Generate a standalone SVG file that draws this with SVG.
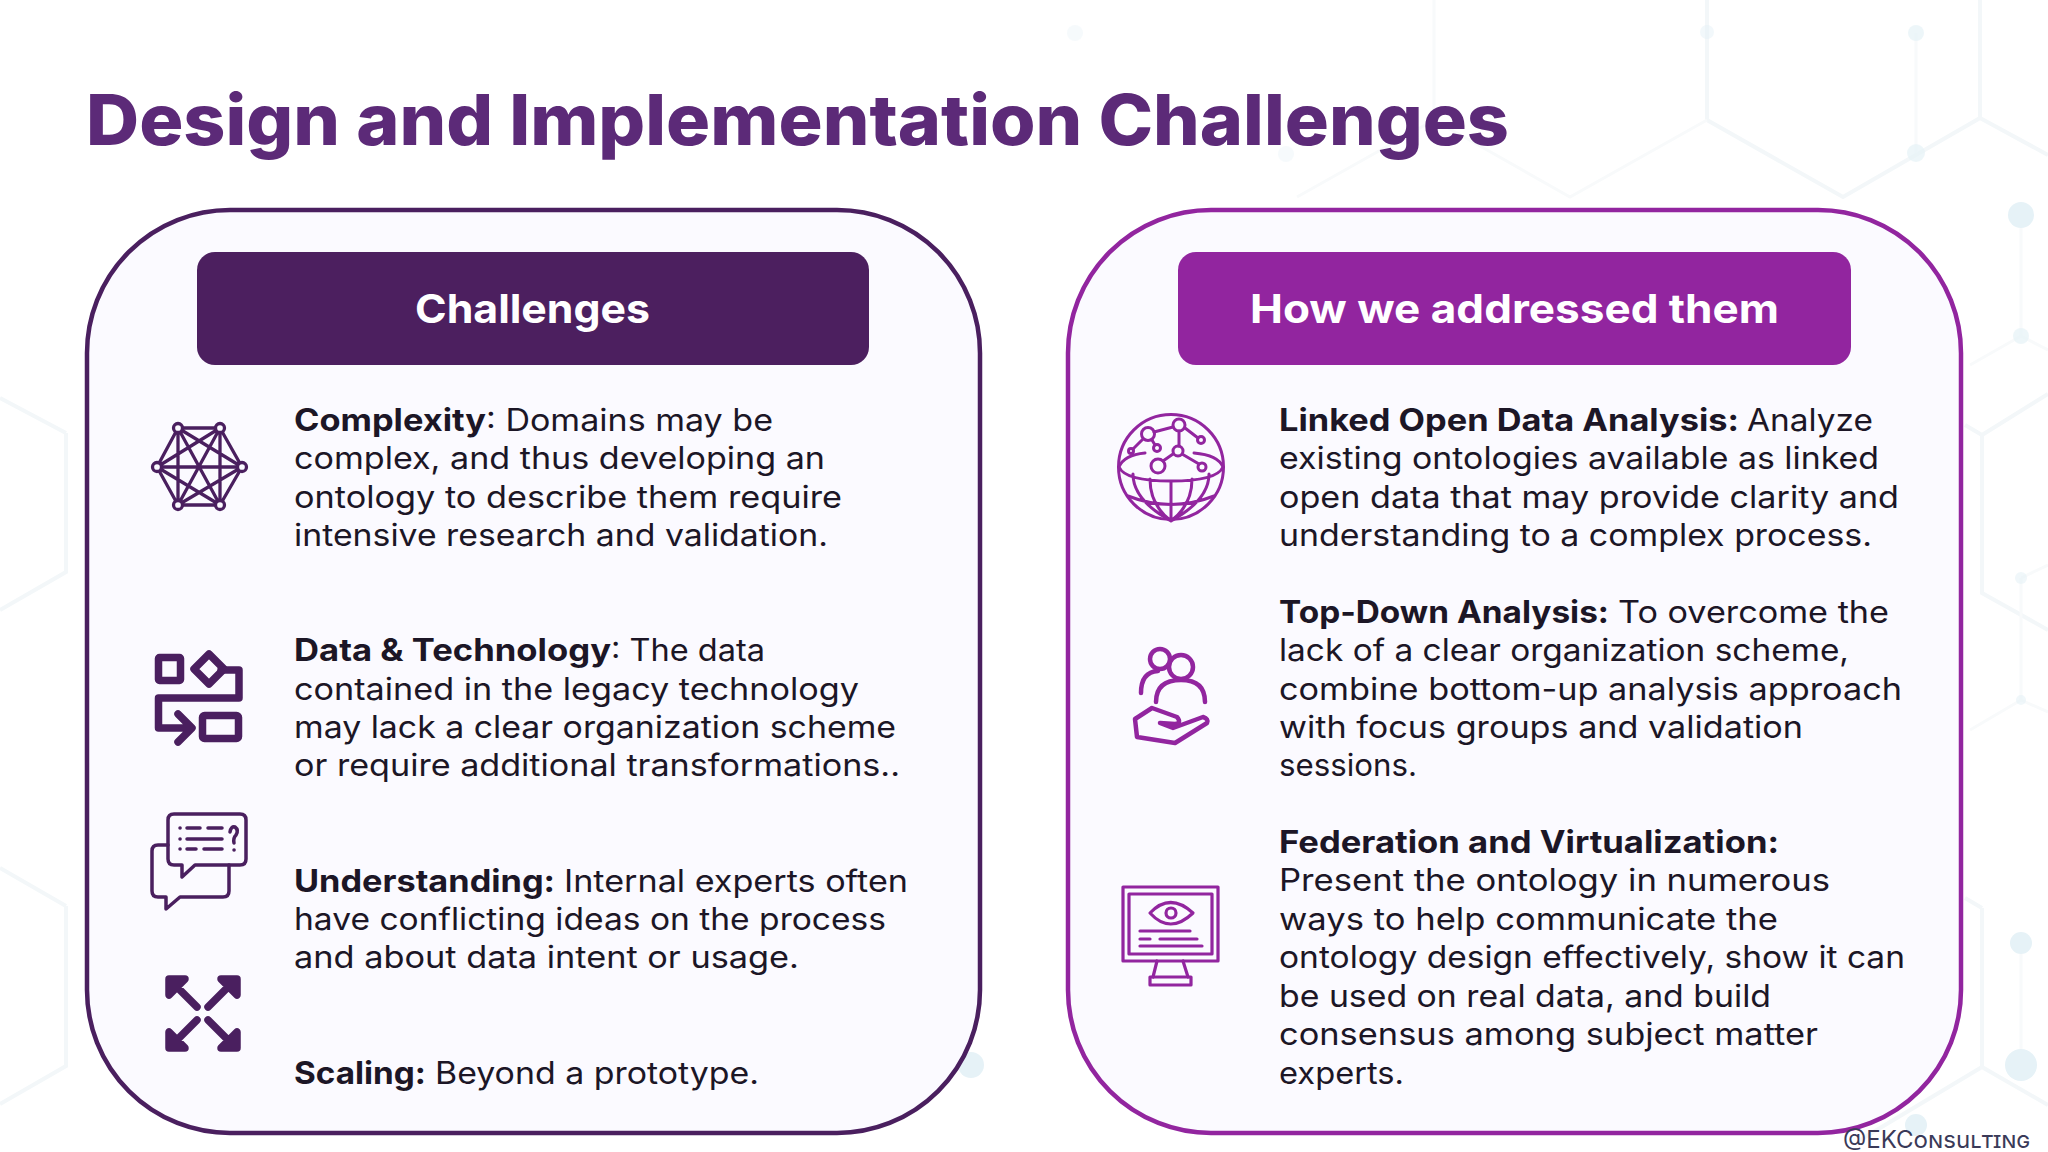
<svg xmlns="http://www.w3.org/2000/svg" width="2048" height="1152" viewBox="0 0 2048 1152">
<style>
text{font-family:"Inter","Liberation Sans",sans-serif}
.t{font-size:31px;fill:#1c1626}
.b{font-weight:700}
.h{font-size:40px;font-weight:700;fill:#fff}
.bgl{fill:none;stroke:#f3f7f9;stroke-width:4}
.bgf{fill:none;stroke:#f8fafb;stroke-width:3}
.bgn{fill:#e6f2f7}
.d{fill:none;stroke:#4a1f5f;stroke-linecap:round;stroke-linejoin:round}
.p{fill:none;stroke:#92259f;stroke-linecap:round;stroke-linejoin:round}
</style>
<rect width="2048" height="1152" fill="#fff"/>
<g id="background">
<path class="bgl" d="M1707 0V120L1843 197L1980 118V0M1980 118L2048 155M1982 435L2048 394M1982 435L1965 425M1982 435V593L2048 630M1982 908V1067L2048 1105M1982 1067L1860 1140M1982 908L1965 898M66 433V572L0 610M66 433L0 398M66 906V1066L0 1104M66 906L0 868"/>
<path class="bgf" d="M1434 0V120L1570 197L1707 120M1297 197L1434 120M1916 33V153M2021 215V336M2021 578V700M2021 943V1065M2021 336L2048 350M2021 336L1970 365M2021 700L2048 712M2021 700L1970 730M2021 578L2048 565"/>
<circle class="bgn" cx="1916" cy="33" r="8" opacity=".7"/><circle class="bgn" cx="1916" cy="153" r="9" opacity=".7"/><circle class="bgn" cx="2021" cy="215" r="13"/><circle class="bgn" cx="2021" cy="336" r="8" opacity=".7"/><circle class="bgn" cx="2021" cy="578" r="6" opacity=".6"/><circle class="bgn" cx="2021" cy="700" r="5" opacity=".6"/><circle class="bgn" cx="1707" cy="32" r="7" opacity=".5"/><circle class="bgn" cx="1075" cy="33" r="8" opacity=".35"/><circle class="bgn" cx="1286" cy="154" r="8" opacity=".35"/>
<circle class="bgn" cx="2021" cy="943" r="11"/><circle class="bgn" cx="2021" cy="1065" r="16"/><circle class="bgn" cx="1916" cy="1125" r="11"/><circle class="bgn" cx="971" cy="1065" r="13"/>
</g>
<text id="title" x="86" y="145" font-size="70" font-weight="800" fill="#5c2a78" textLength="1423" lengthAdjust="spacingAndGlyphs">Design and Implementation Challenges</text>
<g id="card-challenges">
<rect x="87" y="210" width="893" height="923" rx="143" fill="#fbfaff" stroke="#4a1f5f" stroke-width="4.5"/>
<rect x="197" y="252" width="672" height="113" rx="18" fill="#4c1f5f"/>
<text class="h" x="415" y="323" textLength="235" lengthAdjust="spacingAndGlyphs">Challenges</text>
</g>
<g id="card-addressed">
<rect x="1068" y="210" width="893" height="923" rx="143" fill="#fbfaff" stroke="#92259f" stroke-width="4.5"/>
<rect x="1178" y="252" width="673" height="113" rx="18" fill="#92259f"/>
<text class="h" x="1250" y="323" textLength="529" lengthAdjust="spacingAndGlyphs">How we addressed them</text>
</g>
<g id="item-complexity">
<g class="d" stroke-width="3.3"><path d="M178 428H220L242 467L220 505H178L157 467ZM178 428V505M220 428V505M157 467H242M178 428L242 467L178 505M220 428L157 467L220 505M178 428L220 505M220 428L178 505"/><circle cx="178" cy="428" r="4.5" fill="#fbfaff"/><circle cx="220" cy="428" r="4.5" fill="#fbfaff"/><circle cx="157" cy="467" r="4.5" fill="#fbfaff"/><circle cx="242" cy="467" r="4.5" fill="#fbfaff"/><circle cx="178" cy="505" r="4.5" fill="#fbfaff"/><circle cx="220" cy="505" r="4.5" fill="#fbfaff"/></g>
<text class="t b" x="294" y="431" textLength="192" lengthAdjust="spacingAndGlyphs">Complexity</text>
<text class="t" x="486" y="431" textLength="287" lengthAdjust="spacingAndGlyphs">: Domains may be</text>
<text class="t" x="294" y="469" textLength="531" lengthAdjust="spacingAndGlyphs">complex, and thus developing an</text>
<text class="t" x="294" y="508" textLength="548" lengthAdjust="spacingAndGlyphs">ontology to describe them require</text>
<text class="t" x="294" y="546" textLength="534" lengthAdjust="spacingAndGlyphs">intensive research and validation.</text>
</g>
<g id="item-data">
<g class="d" stroke-width="7.5" stroke-linecap="butt" stroke-linejoin="miter"><rect x="158.5" y="657.5" width="22" height="23" rx="1"/><path d="M209 654L224 669L209 684L194 669Z"/><path d="M221 670H239V698H158.5V728H188M178 714L192 728L178 742"/><rect x="202.5" y="715.5" width="36" height="23" rx="2"/></g>
<text class="t b" x="294" y="661" textLength="317" lengthAdjust="spacingAndGlyphs">Data &amp; Technology</text>
<text class="t" x="611" y="661" textLength="154" lengthAdjust="spacingAndGlyphs">: The data</text>
<text class="t" x="294" y="700" textLength="565" lengthAdjust="spacingAndGlyphs">contained in the legacy technology</text>
<text class="t" x="294" y="738" textLength="602" lengthAdjust="spacingAndGlyphs">may lack a clear organization scheme</text>
<text class="t" x="294" y="776" textLength="606" lengthAdjust="spacingAndGlyphs">or require additional transformations..</text>
</g>
<g id="item-understanding">
<g class="d" stroke-width="3.5"><path d="M174 814H240Q246 814 246 820V859Q246 865 240 865H195L182 877V865H174Q168 865 168 859V820Q168 814 174 814Z"/><path d="M168 845H158Q152 845 152 851V891Q152 897 158 897H166V909L180 897H223Q229 897 229 891V865"/><path d="M187 828H200M208 828H222M187 839H222M187 849H196M204 849H222"/><path d="M180 828h.1M180 839h.1M180 849h.1M234 850h.1"/><path d="M230 832Q231 826 235 827Q239 830 236 835Q233 838 234 843"/></g>
<text class="t b" x="294" y="892" textLength="261" lengthAdjust="spacingAndGlyphs">Understanding:</text>
<text class="t" x="564" y="892" textLength="344" lengthAdjust="spacingAndGlyphs">Internal experts often</text>
<text class="t" x="294" y="930" textLength="592" lengthAdjust="spacingAndGlyphs">have conflicting ideas on the process</text>
<text class="t" x="294" y="968" textLength="505" lengthAdjust="spacingAndGlyphs">and about data intent or usage.</text>
</g>
<g id="item-scaling">
<g class="d" stroke-width="7.5" fill="#4a1f5f"><path d="M197 1007L171 981M169 979H185L169 995ZM208 1007L234 981M237 979H221L237 995ZM197 1020L171 1046M169 1048H185L169 1032ZM208 1020L234 1046M237 1048H221L237 1032Z"/></g>
<text class="t b" x="294" y="1084" textLength="132" lengthAdjust="spacingAndGlyphs">Scaling:</text>
<text class="t" x="435" y="1084" textLength="324" lengthAdjust="spacingAndGlyphs">Beyond a prototype.</text>
</g>
<g id="item-linked">
<g class="p" stroke-width="3"><circle cx="1171" cy="467" r="52.5"/><path d="M1119 467Q1124 455 1145 453M1223 467Q1218 455 1194 453M1119 467Q1125 481 1171 481Q1217 481 1223 467M1128 496Q1171 513 1214 496M1150 479Q1150 505 1171 521M1133 474Q1133 500 1171 521M1192 479Q1192 505 1171 521M1209 474Q1209 500 1171 521M1171 481V521"/><circle cx="1148" cy="434" r="6.5"/><circle cx="1179" cy="425" r="6"/><circle cx="1201" cy="440" r="3.5"/><circle cx="1157" cy="448" r="3.5"/><circle cx="1131" cy="451" r="2.5"/><circle cx="1178" cy="451" r="5"/><circle cx="1158" cy="466" r="7"/><circle cx="1202" cy="467" r="4"/><path d="M1154 432L1173 427M1185 428L1198 438M1179 431V446M1173 454L1163 461M1182 454L1199 464M1152 440L1155 445M1143 439L1133 449"/></g>
<text class="t b" x="1279" y="431" textLength="460" lengthAdjust="spacingAndGlyphs">Linked Open Data Analysis:</text>
<text class="t" x="1747" y="431" textLength="126" lengthAdjust="spacingAndGlyphs">Analyze</text>
<text class="t" x="1279" y="469" textLength="600" lengthAdjust="spacingAndGlyphs">existing ontologies available as linked</text>
<text class="t" x="1279" y="508" textLength="620" lengthAdjust="spacingAndGlyphs">open data that may provide clarity and</text>
<text class="t" x="1279" y="546" textLength="593" lengthAdjust="spacingAndGlyphs">understanding to a complex process.</text>
</g>
<g id="item-topdown">
<g class="p" stroke-width="4.5"><circle cx="1160" cy="659" r="10"/><circle cx="1181" cy="667" r="12"/><path d="M1141 693Q1141 672 1158 671M1156 702Q1156 680 1181 680Q1205 680 1205 702"/><path d="M1135 719L1152 708L1177 717Q1182 723 1175 724L1160 723L1173 728L1203 717Q1209 719 1207 723L1175 743L1137 737Z"/></g>
<text class="t b" x="1279" y="623" textLength="330" lengthAdjust="spacingAndGlyphs">Top-Down Analysis:</text>
<text class="t" x="1618" y="623" textLength="271" lengthAdjust="spacingAndGlyphs">To overcome the</text>
<text class="t" x="1279" y="661" textLength="570" lengthAdjust="spacingAndGlyphs">lack of a clear organization scheme,</text>
<text class="t" x="1279" y="700" textLength="623" lengthAdjust="spacingAndGlyphs">combine bottom-up analysis approach</text>
<text class="t" x="1279" y="738" textLength="524" lengthAdjust="spacingAndGlyphs">with focus groups and validation</text>
<text class="t" x="1279" y="776" textLength="138" lengthAdjust="spacingAndGlyphs">sessions.</text>
</g>
<g id="item-federation">
<g class="p" stroke-width="3.2" stroke-linecap="butt" stroke-linejoin="miter"><rect x="1123" y="887" width="95" height="74"/><rect x="1129" y="894" width="83" height="60"/><path d="M1150 913Q1170 892 1193 913Q1170 935 1150 913Z"/><circle cx="1171" cy="913" r="5"/><path d="M1140 931H1190M1140 939H1150M1160 939H1197M1140 946H1202M1157 961L1153 977M1183 961L1188 977"/><rect x="1150" y="977" width="41" height="8"/></g>
<text class="t b" x="1279" y="853" textLength="500" lengthAdjust="spacingAndGlyphs">Federation and Virtualization:</text>
<text class="t" x="1279" y="891" textLength="551" lengthAdjust="spacingAndGlyphs">Present the ontology in numerous</text>
<text class="t" x="1279" y="930" textLength="499" lengthAdjust="spacingAndGlyphs">ways to help communicate the</text>
<text class="t" x="1279" y="968" textLength="626" lengthAdjust="spacingAndGlyphs">ontology design effectively, show it can</text>
<text class="t" x="1279" y="1007" textLength="492" lengthAdjust="spacingAndGlyphs">be used on real data, and build</text>
<text class="t" x="1279" y="1045" textLength="539" lengthAdjust="spacingAndGlyphs">consensus among subject matter</text>
<text class="t" x="1279" y="1084" textLength="125" lengthAdjust="spacingAndGlyphs">experts.</text>
</g>
<text id="credit" x="1843" y="1148" font-size="24" fill="#3a3a58" font-variant="small-caps" textLength="187" lengthAdjust="spacingAndGlyphs">@EKConsulting</text>
</svg>
